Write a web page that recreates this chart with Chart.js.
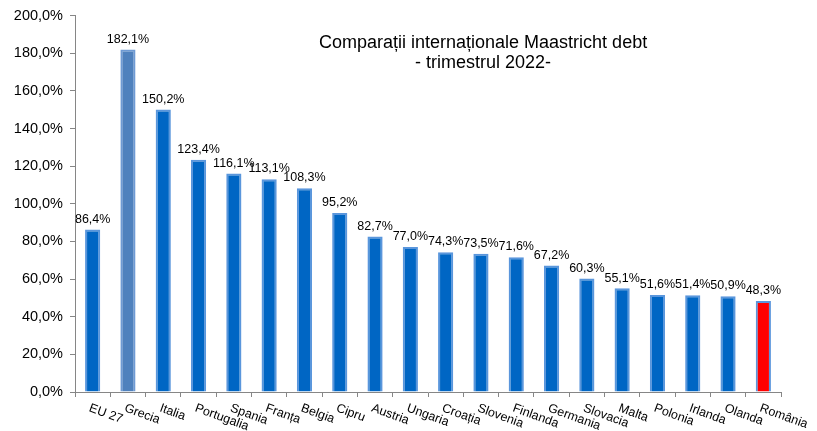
<!DOCTYPE html>
<html>
<head>
<meta charset="utf-8">
<script src="https://cdn.jsdelivr.net/npm/chart.js@4.4.1/dist/chart.umd.min.js"></script>
<style>
  html, body { margin: 0; padding: 0; background: #fff; }
  #wrap { width: 817px; height: 431px; position: relative; }
</style>
</head>
<body>
<div id="wrap"><canvas id="c" width="817" height="431"></canvas></div>
<script>
const categories = ["EU 27", "Grecia", "Italia", "Portugalia", "Spania", "Franța", "Belgia", "Cipru", "Austria", "Ungaria", "Croația", "Slovenia", "Finlanda", "Germania", "Slovacia", "Malta", "Polonia", "Irlanda", "Olanda", "România"];
const debtValues = [86.4, 182.1, 150.2, 123.4, 116.1, 113.1, 108.3, 95.2, 82.7, 77.0, 74.3, 73.5, 71.6, 67.2, 60.3, 55.1, 51.6, 51.4, 50.9, 48.3];
const yTickMin = 0, yTickMax = 200, yTickStep = 20;
const titleLines = ["Comparații internaționale Maastricht debt", "- trimestrul 2022-"];
const highlightLight = "Grecia";
const highlightRed = "România";

const FONT = "'Liberation Sans', Arial, sans-serif";
const fmt = v => v.toFixed(1).replace('.', ',') + '%';

const overlay = {
  id: 'overlay',
  afterDatasetsDraw(chart) {
    const ctx = chart.ctx;
    const meta = chart.getDatasetMeta(0);
    ctx.save();
    ctx.fillStyle = '#000';
    ctx.font = '12.5px ' + FONT;
    ctx.textAlign = 'center';
    ctx.textBaseline = 'bottom';
    meta.data.forEach((bar, i) => {
      ctx.fillText(fmt(debtValues[i]), bar.x, bar.y - 4);
    });
    ctx.restore();
  },
  afterDraw(chart) {
    const ctx = chart.ctx;
    const xs = chart.scales.x;
    const area = chart.chartArea;
    ctx.save();
    ctx.fillStyle = '#000';
    ctx.font = '12.5px ' + FONT;
    ctx.textAlign = 'left';
    ctx.textBaseline = 'top';
    categories.forEach((lab, i) => {
      const x = xs.getPixelForTick(i);
      ctx.save();
      ctx.translate(x - 1, area.bottom + 10);
      ctx.rotate(20 * Math.PI / 180);
      ctx.fillText(lab, 0, 0);
      ctx.restore();
    });
    // title
    ctx.font = '18px ' + FONT;
    ctx.textAlign = 'center';
    ctx.textBaseline = 'alphabetic';
    const cx = area.left + (area.right - area.left) * 0.578;
    ctx.fillText(titleLines[0], cx, area.top + 32);
    ctx.fillText(titleLines[1], cx, area.top + 52);
    ctx.restore();
  }
};

new Chart(document.getElementById('c'), {
  type: 'bar',
  data: {
    labels: categories,
    datasets: [{
      data: debtValues,
      backgroundColor: ctx => {
        const l = categories[ctx.dataIndex];
        if (l === highlightLight) return '#4F81BD';
        if (l === highlightRed) return '#FF0000';
        return '#0066C4';
      },
      borderColor: ctx => categories[ctx.dataIndex] === highlightLight ? '#6E9AD4' : '#5A96DC',
      borderWidth: 2,
      borderSkipped: 'bottom',
      barPercentage: 0.43,
      categoryPercentage: 1.0
    }]
  },
  options: {
    responsive: false,
    animation: false,
    devicePixelRatio: 1,
    layout: { padding: { left: 0, top: 14, right: 36, bottom: 0 } },
    plugins: { legend: { display: false }, tooltip: { enabled: false }, title: { display: false } },
    scales: {
      x: {
        grid: { offset: true, drawOnChartArea: false, drawTicks: true, tickLength: 5, color: '#868686' },
        border: { display: true, color: '#868686', width: 1 },
        ticks: { display: false },
        afterFit(s) { s.height = 39; }
      },
      y: {
        min: yTickMin, max: yTickMax,
        grid: { drawOnChartArea: false, drawTicks: true, tickLength: 5, color: '#868686' },
        border: { display: true, color: '#868686', width: 1 },
        ticks: {
          stepSize: yTickStep,
          padding: 7,
          color: '#000',
          font: { family: FONT, size: 14.5 },
          callback: v => fmt(v)
        },
        afterFit(s) { s.width = 75; }
      }
    }
  },
  plugins: [overlay]
});
</script>
</body>
</html>
